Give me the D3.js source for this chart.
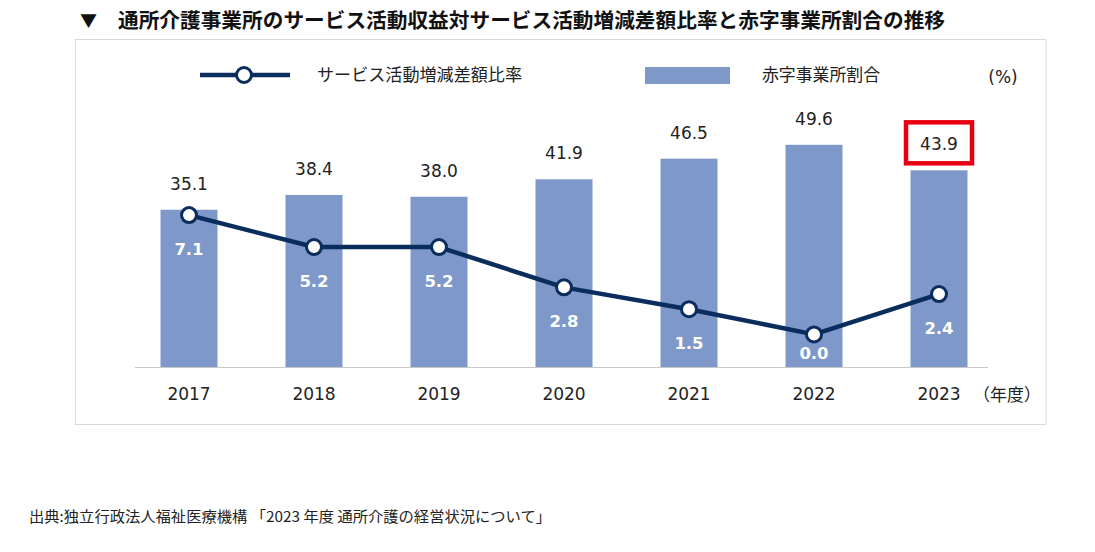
<!DOCTYPE html>
<html><head><meta charset="utf-8">
<script src="https://cdn.jsdelivr.net/npm/d3@7/dist/d3.min.js"></script>
<style>body{margin:0;background:#fff;}svg{display:block;}</style>
</head><body>
<svg id="c" width="1095" height="552"></svg>
<script>
const years = ["2017","2018","2019","2020","2021","2022","2023"];
const deficitShare = [35.1, 38.4, 38.0, 41.9, 46.5, 49.6, 43.9];
const marginRatio = [7.1, 5.2, 5.2, 2.8, 1.5, 0.0, 2.4];
const titleText = "通所介護事業所のサービス活動収益対サービス活動増減差額比率と赤字事業所割合の推移";
const lineName = "サービス活動増減差額比率";
const barName = "赤字事業所割合";
const unitText = "(%)";
const xUnitText = "（年度）";
const sourceText = "出典:独立行政法人福祉医療機構 「2023 年度 通所介護の経営状況について」";
const highlightYear = "2023";

const svg = d3.select("#c");
const JP = "'Noto Sans CJK JP','Noto Sans',sans-serif";
const NUM = "'DejaVu Sans',Verdana,sans-serif";
const barColor = "#7d98c9", lineColor = "#0b2d5e";

const baseY = 367;
const x = d3.scaleBand().domain(years).range([126.5, 1001.5]).paddingInner(0.544).paddingOuter(0.272);
const yBar = d3.scaleLinear().domain([0, 50]).range([baseY, baseY - 224]);
const yLine = d3.scaleLinear().domain([-2, 10]).range([368, 166.4]);

// frame
svg.append("rect").attr("x", 75.5).attr("y", 39.5).attr("width", 970.5).attr("height", 385)
  .attr("fill", "#fff").attr("stroke", "#d9d9d9").attr("stroke-width", 1);

// title
svg.append("text").attr("x", 80).attr("y", 27).attr("font-family", JP).attr("font-size", 17)
  .attr("fill", "#111").text("▼");
svg.append("text").attr("x", 118).attr("y", 27.5).attr("font-family", JP).attr("font-size", 20.5)
  .attr("font-weight", "bold").attr("fill", "#111")
  .attr("textLength", 827).attr("lengthAdjust", "spacingAndGlyphs").text(titleText);

// legend
svg.append("line").attr("x1", 200).attr("x2", 290).attr("y1", 75).attr("y2", 75)
  .attr("stroke", lineColor).attr("stroke-width", 4.5);
svg.append("circle").attr("cx", 244).attr("cy", 75).attr("r", 7.5)
  .attr("fill", "#fff").attr("stroke", lineColor).attr("stroke-width", 3);
svg.append("text").attr("x", 317).attr("y", 81).attr("font-family", JP).attr("font-size", 17)
  .attr("fill", "#222").attr("textLength", 205).attr("lengthAdjust", "spacingAndGlyphs").text(lineName);
svg.append("rect").attr("x", 645).attr("y", 67).attr("width", 85).attr("height", 17).attr("fill", barColor);
svg.append("text").attr("x", 762).attr("y", 81).attr("font-family", JP).attr("font-size", 17)
  .attr("fill", "#222").attr("textLength", 118).attr("lengthAdjust", "spacingAndGlyphs").text(barName);
svg.append("text").attr("x", 1003).attr("y", 83).attr("text-anchor", "middle").attr("font-family", NUM)
  .attr("font-size", 17).attr("fill", "#222").text(unitText);

// bars
svg.selectAll("rect.bar").data(years).enter().append("rect").attr("class", "bar")
  .attr("x", d => x(d)).attr("width", x.bandwidth())
  .attr("y", (d, i) => yBar(deficitShare[i])).attr("height", (d, i) => baseY - yBar(deficitShare[i]))
  .attr("fill", barColor);

// axis
const xAxis = d3.axisBottom(x).tickSize(0).tickPadding(21);
const ax = svg.append("g").attr("transform", `translate(0,${baseY})`).call(xAxis);
ax.select(".domain").remove();
ax.selectAll("text").attr("font-family", NUM).attr("font-size", 17).attr("fill", "#222");
svg.append("line").attr("x1", 135).attr("x2", 988).attr("y1", baseY + 0.5).attr("y2", baseY + 0.5)
  .attr("stroke", "#c8c8c8").attr("stroke-width", 1.2);
svg.append("text").attr("x", 1007).attr("y", 401).attr("text-anchor", "middle").attr("font-family", JP)
  .attr("font-size", 17).attr("fill", "#222").text(xUnitText);

// bar value labels
const cx = d => x(d) + x.bandwidth() / 2;
svg.selectAll("text.bv").data(years).enter().append("text").attr("class", "bv")
  .attr("x", d => cx(d)).attr("y", (d, i) => yBar(deficitShare[i]) - 20)
  .attr("text-anchor", "middle").attr("font-family", NUM).attr("font-size", 17).attr("fill", "#222")
  .text((d, i) => deficitShare[i].toFixed(1));

// highlight box
const hi = years.indexOf(highlightYear);
svg.append("rect").attr("x", cx(highlightYear) - 33).attr("y", yBar(deficitShare[hi]) - 48)
  .attr("width", 66).attr("height", 41).attr("fill", "none").attr("stroke", "#e60012").attr("stroke-width", 4.5);

// line
const line = d3.line().x(d => cx(d)).y((d, i) => yLine(marginRatio[i]));
svg.append("path").datum(years).attr("d", line).attr("fill", "none")
  .attr("stroke", lineColor).attr("stroke-width", 4.5).attr("stroke-linejoin", "round");
svg.selectAll("circle.pt").data(years).enter().append("circle").attr("class", "pt")
  .attr("cx", d => cx(d)).attr("cy", (d, i) => yLine(marginRatio[i])).attr("r", 7.5)
  .attr("fill", "#fff").attr("stroke", lineColor).attr("stroke-width", 3);
svg.selectAll("text.lv").data(years).enter().append("text").attr("class", "lv")
  .attr("x", d => cx(d)).attr("y", (d, i) => Math.min(yLine(marginRatio[i]) + 40, baseY - 8))
  .attr("text-anchor", "middle").attr("font-family", NUM).attr("font-size", 16.5).attr("font-weight", "bold")
  .attr("fill", "#fff").text((d, i) => marginRatio[i].toFixed(1));

// source
svg.append("text").attr("x", 29).attr("y", 522).attr("font-family", JP).attr("font-size", 14.5)
  .attr("fill", "#222").attr("textLength", 522).attr("lengthAdjust", "spacingAndGlyphs").text(sourceText);
</script>
</body></html>
